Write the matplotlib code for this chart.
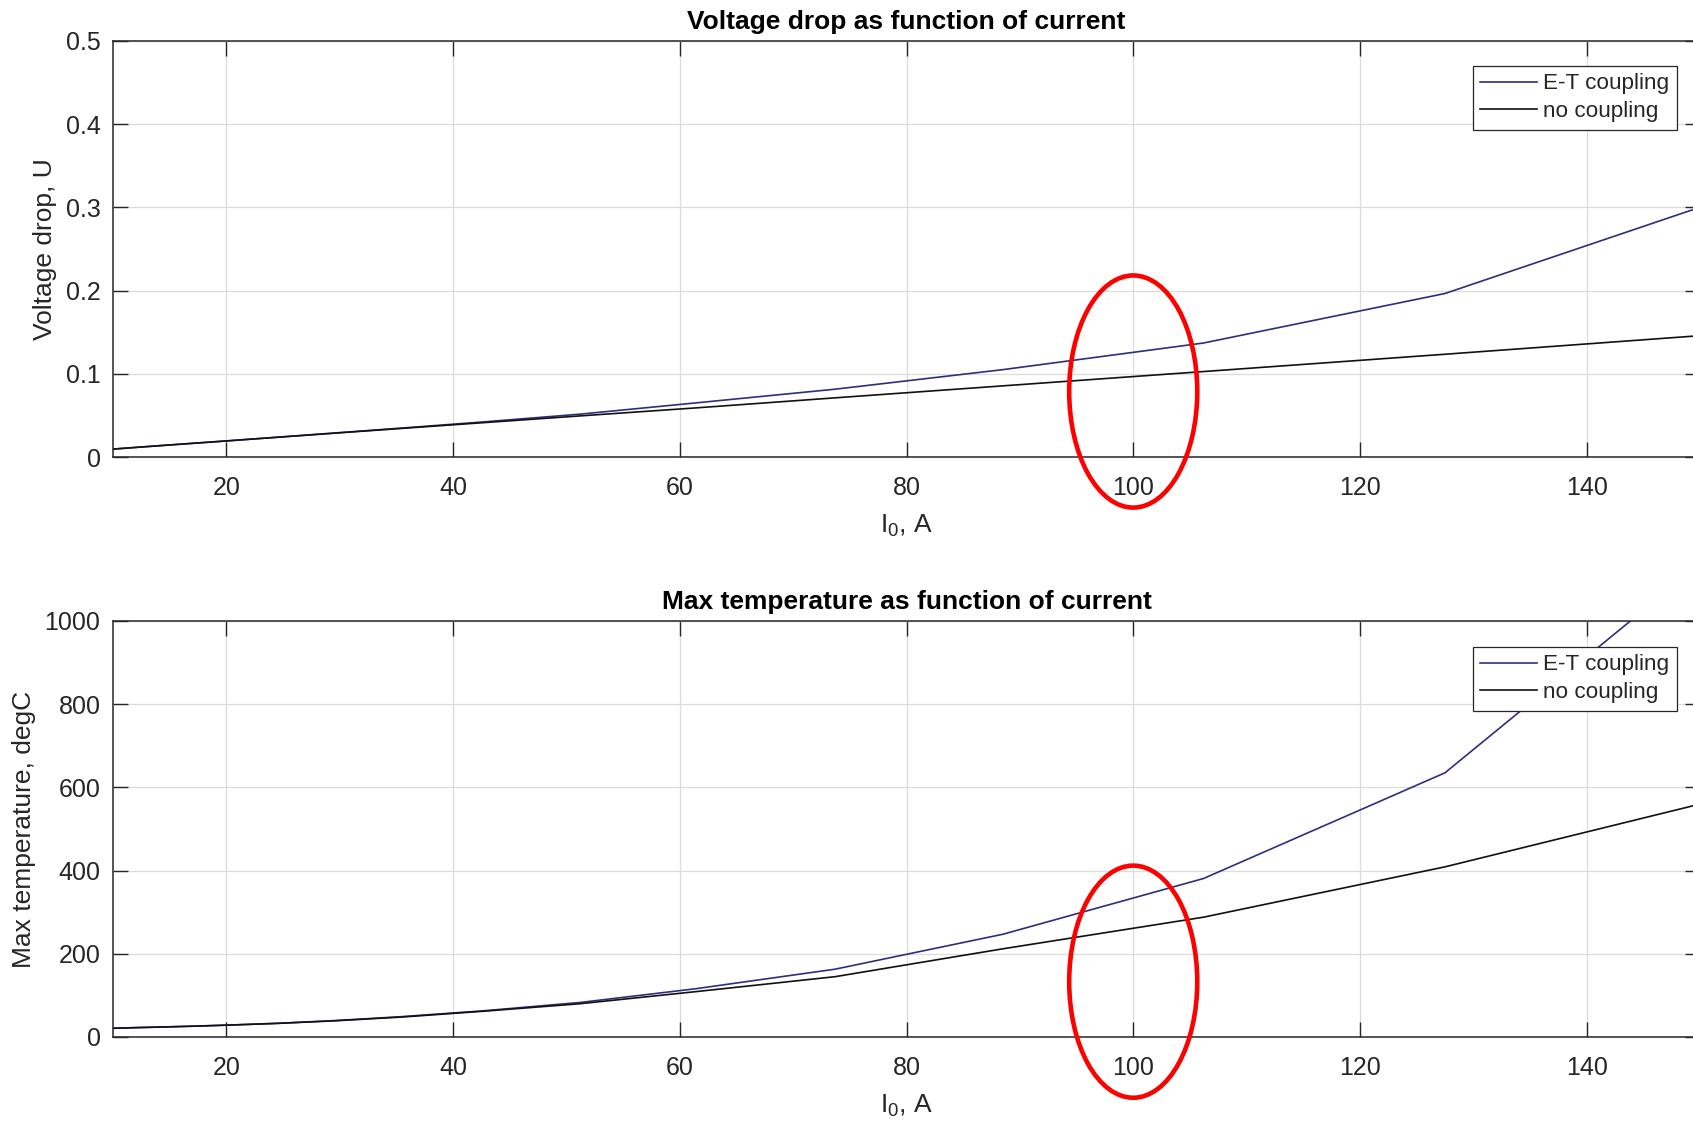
import matplotlib
matplotlib.use("Agg")
import matplotlib.pyplot as plt
from matplotlib.patches import Ellipse

plt.rcParams["font.family"] = ["Liberation Sans", "DejaVu Sans"]
plt.rcParams["mathtext.fontset"] = "custom"
plt.rcParams["mathtext.rm"] = "Liberation Sans"

# Sweep of the supply current I0 (A)
current = [10, 12, 14.3, 17.1, 20.6, 24.7, 29.6, 35.5, 42.7, 51.2,
           61.4, 73.7, 88.5, 106.2, 127.5, 153]

# Voltage drop (U) with and without electro-thermal coupling
u_coupled = [0.0095, 0.0115, 0.0138, 0.0165, 0.0199, 0.0240, 0.0289, 0.0348,
             0.0422, 0.0515, 0.0650, 0.0815, 0.1050, 0.1370, 0.1965, 0.3140]
u_uncoupled = [0.0095, 0.0115, 0.0138, 0.0165, 0.0199, 0.0239, 0.0287, 0.0344,
               0.0413, 0.0494, 0.0590, 0.0711, 0.0855, 0.1027, 0.1235, 0.1488]

# Maximum temperature (degC) with and without coupling
t_coupled = [21, 22.5, 24, 26, 29, 33, 39.5, 49, 63, 83, 116, 163, 247, 381, 635, 1204]
t_uncoupled = [21, 22.5, 24, 26, 29, 33, 39, 48, 62, 80, 109, 145, 212, 288, 409, 580]

series_labels = ["E-T coupling", "no coupling"]
x_ticks = [20, 40, 60, 80, 100, 120, 140]
u_ticks = [0, 0.1, 0.2, 0.3, 0.4, 0.5]
t_ticks = [0, 200, 400, 600, 800, 1000]

BLUE = "#2e2e7e"
BLACK = "#111111"
AX_COLOR = "#262626"
GRID = "#dcdcdc"

W, H = 1693, 1123
fig = plt.figure(figsize=(W / 100, H / 100), dpi=100)
fig.patch.set_facecolor("white")


def px_rect(left, top, right, bottom):
    return [left / W, 1 - bottom / H, (right - left) / W, (bottom - top) / H]


def style_axes(ax, yticks, ylim, ylabel, title):
    ax.set_xlim(10, 150)
    ax.set_ylim(*ylim)
    ax.set_xticks(x_ticks)
    ax.set_yticks(yticks)
    ax.set_yticklabels([f"{v:g}" for v in yticks])
    ax.grid(True, color=GRID, linewidth=0.9)
    ax.set_axisbelow(True)
    ax.tick_params(direction="in", length=11, width=1.0, color=AX_COLOR,
                   labelcolor=AX_COLOR, labelsize=18, top=True, right=True)
    ax.tick_params(axis="x", pad=14)
    ax.tick_params(axis="y", pad=9)
    for s in ax.spines.values():
        s.set_color(AX_COLOR)
        s.set_linewidth(1.1)
    ax.set_ylabel(ylabel, fontsize=19, color=AX_COLOR, labelpad=6)
    ax.set_xlabel(r"I$_{\mathregular{0}}$, A", fontsize=19, color=AX_COLOR, labelpad=9)
    ax.set_title(title, fontsize=19, fontweight="bold", color="black", pad=9)


def add_legend(ax, top_px):
    leg = ax.legend(series_labels, loc="upper right",
                    bbox_to_anchor=(1677 / W, 1 - top_px / H),
                    bbox_transform=fig.transFigure, borderaxespad=0,
                    fancybox=False, framealpha=1, edgecolor=AX_COLOR,
                    fontsize=16.2, handlelength=2.5, handletextpad=0.3,
                    borderpad=0.33, labelspacing=0.3)
    leg.get_frame().set_linewidth(0.9)
    for t in leg.get_texts():
        t.set_color(AX_COLOR)


# Upper panel: voltage drop
ax1 = fig.add_axes(px_rect(113, 41, 1700, 457))
ax1.plot(current, u_coupled, color=BLUE, linewidth=1.2)
ax1.plot(current, u_uncoupled, color=BLACK, linewidth=1.2)
style_axes(ax1, u_ticks, (0, 0.5), "Voltage drop, U",
           "Voltage drop as function of current")
add_legend(ax1, 66)

# Lower panel: maximum temperature
ax2 = fig.add_axes(px_rect(113, 621, 1700, 1037))
ax2.plot(current, t_coupled, color=BLUE, linewidth=1.2)
ax2.plot(current, t_uncoupled, color=BLACK, linewidth=1.2)
style_axes(ax2, t_ticks, (0, 1000), "Max temperature, degC",
           "Max temperature as function of current")
add_legend(ax2, 647)

# Red rings highlighting the operating point at 100 A
ring_kw = dict(fill=False, edgecolor="#ff0000", linewidth=3.3, clip_on=False, zorder=10)
ax1.add_patch(Ellipse((100, 0.0787), width=11.3, height=0.279, **ring_kw))
ax2.add_patch(Ellipse((100, 133), width=11.3, height=558, **ring_kw))

fig.savefig("out.png", dpi=100)
